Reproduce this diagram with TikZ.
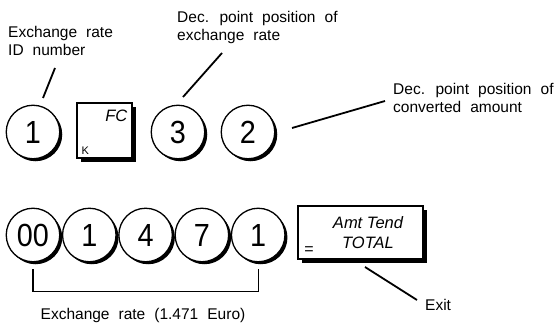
\documentclass[tikz,border=0pt]{standalone}
\usepackage{fontspec}
\setmainfont{Liberation Sans}[WordSpace=2.1]
\newfontfamily\keyfont{Liberation Sans}
\newfontfamily\digitfont{Liberation Sans}[FakeStretch=0.9]
\usetikzlibrary{positioning,shadows}

\begin{document}
\begin{tikzpicture}[x=1pt, y=-1pt, font=\fontsize{15.5}{18}\selectfont,
          key/.style={draw, circle, line width=1.3pt, fill=white, minimum size=53.5pt,
                      inner sep=0pt, font=\digitfont\fontsize{32}{32}\selectfont,
                      drop shadow={shadow xshift=2.5pt, shadow yshift=-2.5pt,
                                   fill=black, opacity=1}},
          fnkey/.style={draw, line width=1.2pt, fill=white, inner sep=0pt,
                        drop shadow={shadow xshift=4pt, shadow yshift=-4pt,
                                     fill=black, opacity=1}},
          keytxt/.style={inner sep=0pt, font=\keyfont\itshape\fontsize{16.5}{20}\selectfont},
          note/.style={align=left, inner sep=0pt},
          leader/.style={line width=1.8pt}]
        \useasboundingbox (0,0) rectangle (556,326);
        % first line: rate ID, FC key, decimal places
        \node[key] (k1) at (33,132) {1};
        \node[fnkey, minimum width=55pt, minimum height=55pt] (fc) at (104.5,130.5) {};
        \node[keytxt, anchor=north east] (fctxt) at ([xshift=-5pt, yshift=-7pt]fc.north east) {FC};
        \node[inner sep=0pt, anchor=south west, font=\keyfont\fontsize{11}{11}\selectfont]
             (fck) at ([xshift=5pt, yshift=4pt]fc.south west) {K};
        \node[key] (k3) at (178,132) {3};
        \node[key] (k2) at (248,132) {2};
        % second line: the rate itself, then the total key
        \node[key] (b00) at (33,235) {00};
        \node[key, right=1.5pt of b00] (b1) {1};
        \node[key, right=1.5pt of b1] (b4) {4};
        \node[key, right=1.5pt of b4] (b7) {7};
        \node[key, right=1.5pt of b7] (b1b) {1};
        \node[fnkey, minimum width=125pt, minimum height=53pt] (tot) at (360.5,232.5) {};
        \node[keytxt, align=center] (tottxt) at (368,233) {Amt Tend\\TOTAL};
        \node[inner sep=0pt, font=\keyfont\fontsize{16}{16}\selectfont] (toteq) at (309,251) {=};
        % captions
        \node[note, anchor=west] (lid) at (8,41) {Exchange rate\\ID number};
        \node[note, anchor=west] (ldec) at (177,27) {Dec. point position of\\exchange rate};
        \node[note, anchor=west] (lconv) at (393,98) {Dec. point position of\\converted amount};
        \node[note] (lrate) at (143,315) {Exchange rate (1.471 Euro)};
        \node[note, anchor=west] (lexit) at (425,305) {Exit};
        % leader lines
        \coordinate (a1) at (55,68);   \coordinate (a2) at (43,98);
        \coordinate (c1) at (222,53);  \coordinate (c2) at (183,97);
        \coordinate (d1) at (292,128); \coordinate (d2) at (385,101);
        \coordinate (e1) at (365,267); \coordinate (e2) at (417,300);
        \draw[leader] (a1) -- (a2);
        \draw[leader] (c1) -- (c2);
        \draw[leader] (d1) -- (d2);
        \draw[leader] (e1) -- (e2);
        % bracket under the rate digits
        \draw[line width=1.4pt] ([yshift=-7pt]b00.south) -- ++(0,22) -| ([yshift=-7pt]b1b.south);
      \end{tikzpicture}
\end{document}
